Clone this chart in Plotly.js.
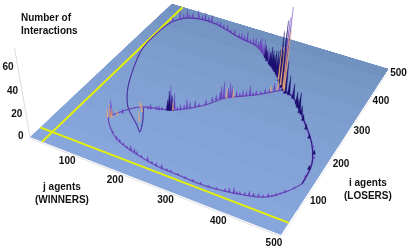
<!DOCTYPE html>
<html><head><meta charset="utf-8">
<script src="https://cdn.plot.ly/plotly-3.0.1.min.js"></script>
<style>html,body{margin:0;padding:0;background:#fff;overflow:hidden}#c{width:415px;height:249px;filter:blur(0.35px)}</style>
</head><body><div id="c"></div>
<script>
// Values: j = winners, i = losers, z = interactions
var upperArcJ=[344,318,279,238,186,128,94,57,34,30];
var upperArcI=[340,372,408,444,457,476,479,468,434,348];
var leftArcJ=[30,36,76,109,152,167,154,136];
var leftArcI=[348,312,206,155,119,105,136,166];
var midJ=[344,303,257,234,188,129,96,94];
var midI=[340,300,265,229,187,166,121,111];
var lowerJ=[94,112,141,185,241,289,339,397,440,468,482];
var lowerI=[111,91,69,54,43,41,40,49,64,95,122];
var rightJ=[482,477,456,423,370,344];
var rightI=[122,175,223,268,329,340];

var purpleJ=[262,279,245,225,210,195,175,155,135,112,95,80,68,57,47,38,344,340,96,110,150,165,185,190,200,208,220,235,250,256,265,275,285,295,305,318,330,141,160,180,195,220,240,252,270,300,330,345,375,390,400,415,430,445,455,465,475,480,475,462,
 270,255,250,240,232,218,203,188,165,145,125,103,88,62,52,240,245,252,262,268,280,290,300,312,324,338,195,205,213,226,178,160,145,170,94,125,150,170,188,205,230,262,285,315,360,382,395,408,422,437,450,460];
var purpleI=[425,408,440,450,452,456,462,468,473,478,480,477,473,468,455,440,342,345,120,135,170,175,185,190,195,205,215,230,258,262,270,278,285,295,302,315,330,69,62,55,52,47,43,42,42,40,40,40,44,47,50,55,60,66,75,88,105,140,190,215,
 417,432,436,443,447,450,453,457,464,470,477,480,479,470,462,245,252,260,268,272,282,290,298,308,322,335,192,200,208,220,183,174,168,178,118,80,65,58,54,50,45,42,41,40,42,46,48,52,57,63,70,82];
var purpleZ=[15,13,9,6,9,5,5,5,5,7,7,8,5,8,8,5,72,62,14,4,5,4,22,15,5,8,6,5,7,16,14,6,6,9,4,4,7,3,2,5,3,4,3,4,2,2,2,2,3,6,3,4,3,4,3,3,2,2,2,2,
 8,7,12,6,7,4,5,4,3,4,3,4,4,4,5,4,5,12,9,11,4,5,3,3,3,5,3,4,5,3,4,3,2,3,10,2,3,2,4,2,2,2,2,2,2,4,3,3,3,2,2,2];
var darkJ=[335,325,345,318,305,295,285,352,360,372,385,395,405,312,300,290,275,268,183,187,180,478,470,445,430,415,400,390,338,330];
var darkI=[350,362,338,372,385,395,402,332,331,325,312,303,290,378,390,398,410,418,183,186,182,160,200,235,255,275,292,305,345,355];
var darkZ=[58,45,40,26,20,16,12,30,18,14,12,15,8,22,14,18,10,12,18,14,10,4,4,4,5,6,7,8,36,30];
var hotJ=[347,342,333,322,100,129,140,150,260,270,188,325,335,96,92,105];
var hotI=[338,344,352,366,115,166,155,130,266,274,187,325,335,115,112,125];
var hotZ=[55,48,35,30,9,5,9,10,10,8,8,6,10,12,8,5];

var jTicks=[100,200,300,400,500];
var iTicks=[100,200,300,400,500];
var zTicks=[0,20,40,60];
var planeI=[0,60,120,180,240,300,360,420,470];
var planeColors=['#87a7dc','#85a5da','#83a3d7','#81a1d4','#7f9fd1','#7c9ccd','#7999c9','#7595c4','#7191bf'];
var yellowAtI=30, yellowAtJ=27, axisMax=500, zTop=76;

// Fixed camera of the picture (perspective projection of j,i,z to the page)
function P(j,i,z){
  var u=j/axisMax,v=i/axisMax;z=z||0;
  var w=-0.11336*u+0.21819*v+1-0.001265*z;
  return [(219.15*u+179.53*v+30-0.2227*z)/w,(71.36*u-132.13*v+137-1.236*z)/w];
}
function line(js,is,zs,color,width,opacity,spline){
  var x=[],y=[];
  js.forEach(function(j,k){var p=P(j,is[k],zs?zs[k]:0);x.push(p[0]);y.push(p[1]);});
  return {type:'scatter',mode:'lines',x:x,y:y,hoverinfo:'skip',opacity:opacity||1,
    line:{color:color,width:width,shape:spline?'spline':'linear',smoothing:0.9}};
}
// a spike is a narrow filled triangle standing on the plane
function spikes(js,is,zs,color,half){
  var x=[],y=[];
  js.forEach(function(j,k){
    var a=P(j-half,is[k]-half/2,0),b=P(j+half,is[k]+half/2,0),t=P(j,is[k],zs[k]);
    x.push(a[0],t[0],b[0],a[0],null);y.push(a[1],t[1],b[1],a[1],null);
  });
  return {type:'scatter',mode:'lines',x:x,y:y,hoverinfo:'skip',fill:'toself',fillcolor:color,line:{color:color,width:0.3}};
}
function text(list){
  return {type:'scatter',mode:'text',hoverinfo:'skip',x:list.map(function(t){return t[0];}),y:list.map(function(t){return t[1];}),
    text:list.map(function(t){return t[2];}),textposition:'middle center',
    textfont:{family:'Liberation Sans, Arial, sans-serif',size:10,color:'#111',weight:700}};
}
var traces=[];
traces.push(line([0,axisMax],[-3,-3],null,'#e4e4e4',1.2));
traces.push(line([axisMax+3,axisMax+3],[0,axisMax],null,'#eeeeee',1));
traces.push(line([0,0],[0,0],[0,zTop],'#dddddd',1));
planeI.forEach(function(i0,k){
  var c=[P(0,i0),P(axisMax,i0),P(axisMax,axisMax),P(0,axisMax),P(0,i0)];
  traces.push({type:'scatter',mode:'lines',x:c.map(function(p){return p[0];}),y:c.map(function(p){return p[1];}),
    fill:'toself',fillcolor:planeColors[k],line:{width:0},hoverinfo:'skip'});
});
traces.push(line([yellowAtJ,yellowAtJ],[0,axisMax],null,'#e6f200',1.9));
traces.push(line([0,axisMax],[yellowAtI,yellowAtI],null,'#e6f200',1.9));
[[upperArcJ,upperArcI,1.7,0.8],[leftArcJ,leftArcI,1.4,0.8],[midJ,midI,1.6,0.5],[lowerJ,lowerI,1.6,0.5],[rightJ,rightI,2.2,1.2]].forEach(function(s){
  traces.push(line(s[0],s[1],null,'#8a6fd0',s[2],0.75,true));
  traces.push(line(s[0],s[1],null,'#2c1a86',s[3],1,true));
});
traces.push(spikes(purpleJ,purpleI,purpleZ,'#6a3fc0',1.6));
traces.push(spikes(darkJ,darkI,darkZ,'#1c1070',2.4));
traces.push(spikes(hotJ,hotI,hotZ,'#e8a878',1.1));
var labels=[];
jTicks.forEach(function(t){var p=P(t-2,-22);labels.push([p[0],p[1],String(t)]);});
iTicks.forEach(function(t){var p=P(523,t-3);labels.push([p[0],p[1],String(t)]);});
zTicks.forEach(function(t){var p=P(-16,-6,t);labels.push([p[0],p[1],String(t)]);});
traces.push(text(labels));
var titleFont={family:'Liberation Sans, Arial, sans-serif',size:10,color:'#111'};
var layout={width:415,height:249,margin:{l:0,r:0,t:0,b:0},showlegend:false,paper_bgcolor:'#fff',plot_bgcolor:'#fff',
  xaxis:{range:[0,415],visible:false,fixedrange:true},
  yaxis:{range:[249,0],visible:false,fixedrange:true},
  annotations:[
   {x:19,y:24,xref:'x',yref:'y',xanchor:'left',yanchor:'middle',align:'left',showarrow:false,text:'<b>Number of<br>Interactions</b>',font:titleFont},
   {x:62,y:193,xref:'x',yref:'y',showarrow:false,text:'<b>j agents<br>(WINNERS)</b>',font:titleFont},
   {x:368,y:189,xref:'x',yref:'y',showarrow:false,text:'<b>i agents<br>(LOSERS)</b>',font:titleFont}
  ]};
Plotly.newPlot('c',traces,layout,{displayModeBar:false,staticPlot:true});
</script></body></html>
